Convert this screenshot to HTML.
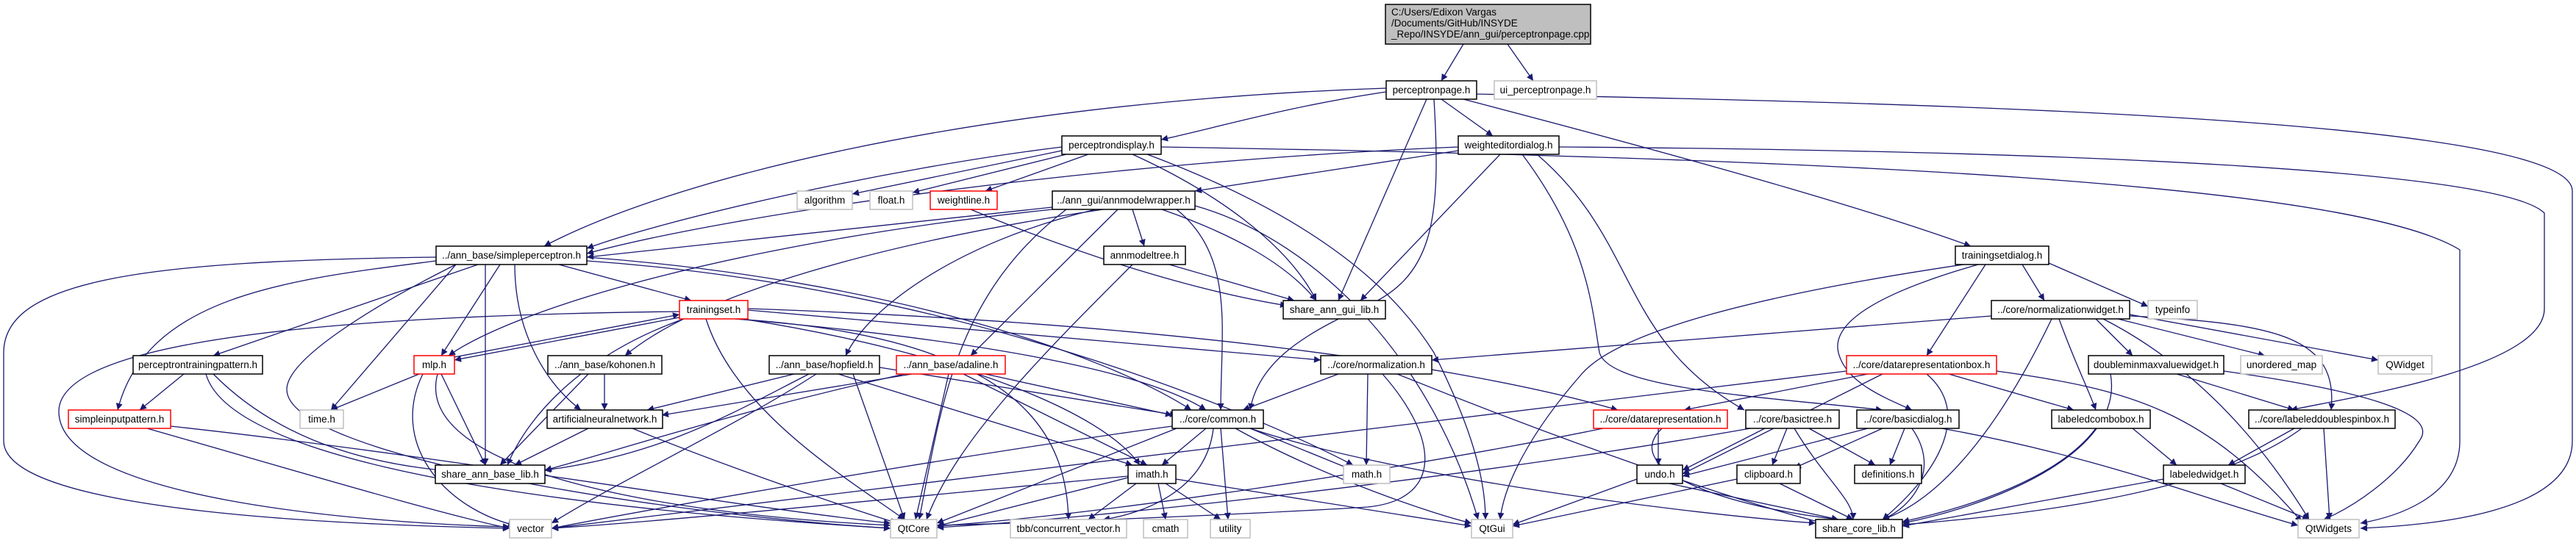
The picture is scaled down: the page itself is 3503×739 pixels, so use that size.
<!DOCTYPE html>
<html><head><meta charset="utf-8"><style>
html,body{margin:0;padding:0;background:#fff;}
svg{display:block;}
text{font-family:"Liberation Sans",Arial,sans-serif;font-size:13.5px;fill:#000;}
.e path{fill:none;stroke:#191970;stroke-width:1.3;}
.n rect{fill:#fff;stroke:#000;stroke-width:1.5;}
.n rect.r{stroke:#ff0000;}
.n rect.g{stroke:#bfbfbf;}
</style></head><body>
<svg width="3503" height="739" viewBox="0 0 3503 739" xmlns="http://www.w3.org/2000/svg">
<defs><marker id="a" viewBox="0 0 10 10" refX="10" refY="5" markerWidth="11" markerHeight="9" markerUnits="userSpaceOnUse" orient="auto"><path d="M0 0 L10 5 L0 10 z" fill="#191970"/></marker></defs>
<g class="e" marker-end="url(#a)">
<path marker-end="url(#a)" d="M1990 60 L1960 110"/>
<path marker-end="url(#a)" d="M2050 60 L2085 110"/>
<path marker-end="url(#a)" d="M1885 125 C1750 145 1650 175 1579 190"/>
<path marker-end="url(#a)" d="M1885 120 C1300 140 900 250 740 335"/>
<path marker-end="url(#a)" d="M1960 135 L2030 185"/>
<path marker-end="url(#a)" d="M1940 135 L1820 409"/>
<path marker-end="url(#a)" d="M1950 135 C1960 300 1950 380 1850 420 C1760 460 1710 500 1700 558"/>
<path marker-end="url(#a)" d="M1990 135 C2200 190 2500 270 2680 335"/>
<path marker-end="url(#a)" d="M2008 128 C2600 140 3498 160 3498 260 L3498 600 C3498 700 3300 715 3210 719"/>
<path marker-end="url(#a)" d="M1444 205 L1159 264"/>
<path marker-end="url(#a)" d="M1450 210 L1241 262"/>
<path marker-end="url(#a)" d="M1480 210 L1340 260"/>
<path marker-end="url(#a)" d="M1444 200 C1200 230 900 300 798 338"/>
<path marker-end="url(#a)" d="M1540 210 C1650 260 1750 330 1790 409"/>
<path marker-end="url(#a)" d="M1560 210 C1800 300 1900 400 1950 480 C2000 580 2020 650 2020 707"/>
<path marker-end="url(#a)" d="M1579 200 C2500 215 3200 250 3345 340 L3345 600 C3345 680 3250 705 3210 712"/>
<path marker-end="url(#a)" d="M1983 205 L1625 260"/>
<path marker-end="url(#a)" d="M1983 200 C1500 220 1000 290 798 345"/>
<path marker-end="url(#a)" d="M2040 210 L1850 409"/>
<path marker-end="url(#a)" d="M2070 210 C2160 330 2165 420 2175 480 C2190 530 2400 540 2560 558"/>
<path marker-end="url(#a)" d="M2120 200 C2800 205 3400 230 3460 290 L3460 420 C3460 500 3200 540 3115 558"/>
<path marker-end="url(#a)" d="M2090 210 C2230 330 2200 460 2372 558"/>
<path marker-end="url(#a)" d="M1431 282 L798 350"/>
<path marker-end="url(#a)" d="M1431 285 C1000 330 700 420 610 484"/>
<path marker-end="url(#a)" d="M1500 285 C1200 330 950 400 850 484"/>
<path marker-end="url(#a)" d="M1520 285 L1320 484"/>
<path marker-end="url(#a)" d="M1540 285 L1556 335"/>
<path marker-end="url(#a)" d="M1580 285 C1680 320 1750 360 1790 409"/>
<path marker-end="url(#a)" d="M1600 285 C1680 350 1660 450 1660 558"/>
<path marker-end="url(#a)" d="M1450 285 C1300 400 1280 550 1250 707"/>
<path marker-end="url(#a)" d="M1490 285 C1300 330 1180 420 1150 484"/>
<path marker-end="url(#a)" d="M1625 280 C1800 330 1950 500 2010 707"/>
<path marker-end="url(#a)" d="M760 360 L940 409"/>
<path marker-end="url(#a)" d="M650 360 L290 484"/>
<path marker-end="url(#a)" d="M593 355 C400 380 200 400 160 558"/>
<path marker-end="url(#a)" d="M680 360 L600 484"/>
<path marker-end="url(#a)" d="M700 360 C700 450 740 520 790 558"/>
<path marker-end="url(#a)" d="M660 360 L660 633"/>
<path marker-end="url(#a)" d="M620 360 L450 558"/>
<path marker-end="url(#a)" d="M593 350 C200 355 5 380 5 480 L5 600 C5 700 500 715 693 719"/>
<path marker-end="url(#a)" d="M798 350 C1200 380 1500 480 1620 558"/>
<path marker-end="url(#a)" d="M798 355 C1300 390 1700 560 1840 633"/>
<path marker-end="url(#a)" d="M620 360 C500 420 390 490 390 530 C390 620 900 700 1211 719"/>
<path marker-end="url(#a)" d="M924 432 L618 490"/>
<path marker-end="url(#a)" d="M618 486 L924 428"/>
<path marker-end="url(#a)" d="M930 434 C800 480 720 560 690 633"/>
<path marker-end="url(#a)" d="M1000 434 C1300 460 1550 500 1640 558"/>
<path marker-end="url(#a)" d="M1017 420 C1600 440 2000 500 2200 558"/>
<path marker-end="url(#a)" d="M1010 434 C1300 480 1500 560 1550 633"/>
<path marker-end="url(#a)" d="M1000 434 C1400 460 1450 600 1453 707"/>
<path marker-end="url(#a)" d="M960 434 C1000 560 1150 650 1230 707"/>
<path marker-end="url(#a)" d="M924 424 C400 430 80 470 80 560 C80 680 500 712 693 717"/>
<path marker-end="url(#a)" d="M1017 422 L1796 490"/>
<path marker-end="url(#a)" d="M2700 360 L2620 484"/>
<path marker-end="url(#a)" d="M2750 360 L2780 409"/>
<path marker-end="url(#a)" d="M2786 358 L2921 417"/>
<path marker-end="url(#a)" d="M2670 360 C2400 400 2200 450 2150 510 C2080 590 2045 660 2040 707"/>
<path marker-end="url(#a)" d="M2690 360 C2550 400 2490 440 2500 480 C2510 520 2560 540 2600 558"/>
<path marker-end="url(#a)" d="M2708 430 L1947 490"/>
<path marker-end="url(#a)" d="M2850 434 L2900 484"/>
<path marker-end="url(#a)" d="M2800 434 C2820 490 2840 530 2850 558"/>
<path marker-end="url(#a)" d="M2896 430 C3100 440 3180 460 3170 558"/>
<path marker-end="url(#a)" d="M2880 434 L3080 484"/>
<path marker-end="url(#a)" d="M2896 428 L3234 490"/>
<path marker-end="url(#a)" d="M2790 434 C2720 580 2640 680 2560 707"/>
<path marker-end="url(#a)" d="M2860 434 C2950 480 3050 560 3140 707"/>
<path marker-end="url(#a)" d="M2540 509 L2290 558"/>
<path marker-end="url(#a)" d="M2650 509 L2820 558"/>
<path marker-end="url(#a)" d="M2620 509 C2680 560 2640 640 2560 707"/>
<path marker-end="url(#a)" d="M2715 505 C2900 530 3000 560 3130 710"/>
<path marker-end="url(#a)" d="M2511 505 L750 719"/>
<path marker-end="url(#a)" d="M2560 509 L2288 645"/>
<path marker-end="url(#a)" d="M2960 509 L3120 558"/>
<path marker-end="url(#a)" d="M2870 509 C2890 620 2700 690 2587 712"/>
<path marker-end="url(#a)" d="M3024 505 C3200 530 3320 560 3290 600 C3260 650 3200 690 3160 707"/>
<path marker-end="url(#a)" d="M250 509 L190 558"/>
<path marker-end="url(#a)" d="M290 509 C380 600 500 630 600 640"/>
<path marker-end="url(#a)" d="M280 509 C320 650 900 700 1211 719"/>
<path marker-end="url(#a)" d="M570 509 L450 558"/>
<path marker-end="url(#a)" d="M600 509 L660 633"/>
<path marker-end="url(#a)" d="M575 509 C530 600 600 690 700 715"/>
<path marker-end="url(#a)" d="M595 509 C560 640 900 700 1211 715"/>
<path marker-end="url(#a)" d="M822 509 L822 558"/>
<path marker-end="url(#a)" d="M800 509 L680 633"/>
<path marker-end="url(#a)" d="M1080 509 L880 558"/>
<path marker-end="url(#a)" d="M1100 509 C1000 560 900 620 740 640"/>
<path marker-end="url(#a)" d="M1196 500 L1600 565"/>
<path marker-end="url(#a)" d="M1140 509 L1540 633"/>
<path marker-end="url(#a)" d="M1110 509 C1000 580 850 650 750 712"/>
<path marker-end="url(#a)" d="M1160 509 L1230 707"/>
<path marker-end="url(#a)" d="M1240 509 L900 565"/>
<path marker-end="url(#a)" d="M1230 509 C1000 560 850 610 741 640"/>
<path marker-end="url(#a)" d="M1340 509 L1594 565"/>
<path marker-end="url(#a)" d="M1310 509 L1560 633"/>
<path marker-end="url(#a)" d="M1290 509 L1245 707"/>
<path marker-end="url(#a)" d="M1820 509 L1690 558"/>
<path marker-end="url(#a)" d="M1860 509 L1858 633"/>
<path marker-end="url(#a)" d="M1880 509 C1960 600 1960 680 1860 690 C1700 700 1400 712 1274 715"/>
<path marker-end="url(#a)" d="M1900 509 C2100 590 2350 680 2480 712"/>
<path marker-end="url(#a)" d="M200 583 C400 640 600 700 693 719"/>
<path marker-end="url(#a)" d="M232 580 C600 620 1000 690 1211 712"/>
<path marker-end="url(#a)" d="M800 583 L700 633"/>
<path marker-end="url(#a)" d="M860 583 C1000 640 1150 690 1220 712"/>
<path marker-end="url(#a)" d="M1594 580 C1300 620 900 690 750 719"/>
<path marker-end="url(#a)" d="M1600 583 L1274 712"/>
<path marker-end="url(#a)" d="M1640 583 L1580 633"/>
<path marker-end="url(#a)" d="M1700 583 L1840 640"/>
<path marker-end="url(#a)" d="M1650 583 C1640 670 1550 700 1500 707"/>
<path marker-end="url(#a)" d="M1660 583 L1670 707"/>
<path marker-end="url(#a)" d="M1680 583 C1800 650 1950 700 2001 712"/>
<path marker-end="url(#a)" d="M1700 583 C1900 650 2300 700 2469 712"/>
<path marker-end="url(#a)" d="M2255 583 L2255 633"/>
<path marker-end="url(#a)" d="M2260 583 C2200 640 2350 690 2500 707"/>
<path marker-end="url(#a)" d="M2180 583 C1900 640 1500 700 1274 716"/>
<path marker-end="url(#a)" d="M2400 583 L2288 640"/>
<path marker-end="url(#a)" d="M2430 583 L2410 633"/>
<path marker-end="url(#a)" d="M2460 583 L2550 633"/>
<path marker-end="url(#a)" d="M2440 583 C2480 650 2520 680 2520 707"/>
<path marker-end="url(#a)" d="M2380 583 C2000 650 1500 705 1274 718"/>
<path marker-end="url(#a)" d="M2540 583 L2288 648"/>
<path marker-end="url(#a)" d="M2560 583 L2440 637"/>
<path marker-end="url(#a)" d="M2590 583 L2570 633"/>
<path marker-end="url(#a)" d="M2600 583 C2640 640 2600 690 2560 707"/>
<path marker-end="url(#a)" d="M2640 583 C2850 620 3000 680 3125 715"/>
<path marker-end="url(#a)" d="M2900 583 L2960 633"/>
<path marker-end="url(#a)" d="M2850 583 C2800 650 2680 690 2587 710"/>
<path marker-end="url(#a)" d="M3120 583 L3030 633"/>
<path marker-end="url(#a)" d="M3160 583 L3168 707"/>
<path marker-end="url(#a)" d="M3130 583 C3000 680 2700 705 2587 714"/>
<path marker-end="url(#a)" d="M1534 650 L1274 716"/>
<path marker-end="url(#a)" d="M1545 658 L1480 707"/>
<path marker-end="url(#a)" d="M1575 658 L1585 707"/>
<path marker-end="url(#a)" d="M1585 658 L1660 707"/>
<path marker-end="url(#a)" d="M1534 648 C1200 680 900 710 750 719"/>
<path marker-end="url(#a)" d="M1599 652 L2001 716"/>
<path marker-end="url(#a)" d="M2226 652 L2057 714"/>
<path marker-end="url(#a)" d="M2270 658 L2500 707"/>
<path marker-end="url(#a)" d="M2362 652 L2057 716"/>
<path marker-end="url(#a)" d="M2420 658 L2520 707"/>
<path marker-end="url(#a)" d="M2942 652 L2587 716"/>
<path marker-end="url(#a)" d="M3020 658 L3140 707"/>
<path marker-end="url(#a)" d="M1590 360 L1760 409"/>
<path marker-end="url(#a)" d="M1540 360 C1420 480 1300 600 1260 707"/>
<path marker-end="url(#a)" d="M1320 285 C1500 360 1650 400 1750 416"/>
</g>
<g class="n">
<rect x="1884" y="6" width="279" height="54" style="fill:#bfbfbf"/>
<text x="1892" y="21">C:/Users/Edixon Vargas</text>
<text x="1892" y="36">/Documents/GitHub/INSYDE</text>
<text x="1892" y="51">_Repo/INSYDE/ann_gui/perceptronpage.cpp</text>

<rect x="1885" y="110" width="123" height="25"/><text x="1946.5" y="127" text-anchor="middle">perceptronpage.h</text>
<rect class="g" x="2032" y="110" width="139" height="25"/><text x="2101.5" y="127" text-anchor="middle">ui_perceptronpage.h</text>
<rect x="1444" y="185" width="135" height="25"/><text x="1511.5" y="202" text-anchor="middle">perceptrondisplay.h</text>
<rect x="1983" y="185" width="137" height="25"/><text x="2051.5" y="202" text-anchor="middle">weighteditordialog.h</text>
<rect class="g" x="1084" y="260" width="75" height="25"/><text x="1121.5" y="277" text-anchor="middle">algorithm</text>
<rect class="g" x="1183" y="260" width="58" height="25"/><text x="1212" y="277" text-anchor="middle">float.h</text>
<rect class="r" x="1265" y="260" width="91" height="25"/><text x="1310.5" y="277" text-anchor="middle">weightline.h</text>
<rect x="1431" y="260" width="194" height="25"/><text x="1528" y="277" text-anchor="middle">../ann_gui/annmodelwrapper.h</text>
<rect x="593" y="335" width="205" height="25"/><text x="695.5" y="352" text-anchor="middle">../ann_base/simpleperceptron.h</text>
<rect x="1501" y="335" width="111" height="25"/><text x="1556.5" y="352" text-anchor="middle">annmodeltree.h</text>
<rect x="2659" y="335" width="127" height="25"/><text x="2722.5" y="352" text-anchor="middle">trainingsetdialog.h</text>
<rect class="r" x="924" y="409" width="93" height="25"/><text x="970.5" y="426" text-anchor="middle">trainingset.h</text>
<rect x="1745" y="409" width="139" height="25"/><text x="1814.5" y="426" text-anchor="middle">share_ann_gui_lib.h</text>
<rect x="2708" y="409" width="188" height="25"/><text x="2802" y="426" text-anchor="middle">../core/normalizationwidget.h</text>
<rect class="g" x="2921" y="409" width="67" height="25"/><text x="2954.5" y="426" text-anchor="middle">typeinfo</text>
<rect x="181" y="484" width="176" height="25"/><text x="269" y="501" text-anchor="middle">perceptrontrainingpattern.h</text>
<rect class="r" x="563" y="484" width="55" height="25"/><text x="590.5" y="501" text-anchor="middle">mlp.h</text>
<rect x="745" y="484" width="155" height="25"/><text x="822.5" y="501" text-anchor="middle">../ann_base/kohonen.h</text>
<rect x="1046" y="484" width="150" height="25"/><text x="1121" y="501" text-anchor="middle">../ann_base/hopfield.h</text>
<rect class="r" x="1219" y="484" width="148" height="25"/><text x="1293" y="501" text-anchor="middle">../ann_base/adaline.h</text>
<rect x="1796" y="484" width="151" height="25"/><text x="1871.5" y="501" text-anchor="middle">../core/normalization.h</text>
<rect class="r" x="2511" y="484" width="204" height="25"/><text x="2613" y="501" text-anchor="middle">../core/datarepresentationbox.h</text>
<rect x="2840" y="484" width="184" height="25"/><text x="2932" y="501" text-anchor="middle">doubleminmaxvaluewidget.h</text>
<rect class="g" x="3047" y="484" width="111" height="25"/><text x="3102.5" y="501" text-anchor="middle">unordered_map</text>
<rect class="g" x="3234" y="484" width="73" height="25"/><text x="3270.5" y="501" text-anchor="middle">QWidget</text>
<rect class="r" x="93" y="558" width="139" height="25"/><text x="162.5" y="575" text-anchor="middle">simpleinputpattern.h</text>
<rect class="g" x="408" y="558" width="59" height="25"/><text x="437.5" y="575" text-anchor="middle">time.h</text>
<rect x="744" y="558" width="157" height="25"/><text x="822.5" y="575" text-anchor="middle">artificialneuralnetwork.h</text>
<rect x="1594" y="558" width="124" height="25"/><text x="1656" y="575" text-anchor="middle">../core/common.h</text>
<rect class="r" x="2167" y="558" width="182" height="25"/><text x="2258" y="575" text-anchor="middle">../core/datarepresentation.h</text>
<rect x="2374" y="558" width="127" height="25"/><text x="2437.5" y="575" text-anchor="middle">../core/basictree.h</text>
<rect x="2525" y="558" width="139" height="25"/><text x="2594.5" y="575" text-anchor="middle">../core/basicdialog.h</text>
<rect x="2790" y="558" width="134" height="25"/><text x="2857" y="575" text-anchor="middle">labeledcombobox.h</text>
<rect x="3058" y="558" width="199" height="25"/><text x="3157.5" y="575" text-anchor="middle">../core/labeleddoublespinbox.h</text>
<rect x="592" y="633" width="149" height="25"/><text x="666.5" y="650" text-anchor="middle">share_ann_base_lib.h</text>
<rect x="1534" y="633" width="65" height="25"/><text x="1566.5" y="650" text-anchor="middle">imath.h</text>
<rect class="g" x="1827" y="633" width="63" height="25"/><text x="1858.5" y="650" text-anchor="middle">math.h</text>
<rect x="2226" y="633" width="62" height="25"/><text x="2257" y="650" text-anchor="middle">undo.h</text>
<rect x="2362" y="633" width="86" height="25"/><text x="2405" y="650" text-anchor="middle">clipboard.h</text>
<rect x="2522" y="633" width="91" height="25"/><text x="2567.5" y="650" text-anchor="middle">definitions.h</text>
<rect x="2942" y="633" width="111" height="25"/><text x="2997.5" y="650" text-anchor="middle">labeledwidget.h</text>
<rect class="g" x="693" y="707" width="57" height="25"/><text x="721.5" y="724" text-anchor="middle">vector</text>
<rect class="g" x="1211" y="707" width="63" height="25"/><text x="1242.5" y="724" text-anchor="middle">QtCore</text>
<rect class="g" x="1374" y="707" width="158" height="25"/><text x="1453" y="724" text-anchor="middle">tbb/concurrent_vector.h</text>
<rect class="g" x="1555" y="707" width="60" height="25"/><text x="1585" y="724" text-anchor="middle">cmath</text>
<rect class="g" x="1646" y="707" width="54" height="25"/><text x="1673" y="724" text-anchor="middle">utility</text>
<rect class="g" x="2001" y="707" width="56" height="25"/><text x="2029" y="724" text-anchor="middle">QtGui</text>
<rect x="2469" y="707" width="118" height="25"/><text x="2528" y="724" text-anchor="middle">share_core_lib.h</text>
<rect class="g" x="3125" y="707" width="83" height="25"/><text x="3166.5" y="724" text-anchor="middle">QtWidgets</text>
</g>
</svg>
</body></html>
